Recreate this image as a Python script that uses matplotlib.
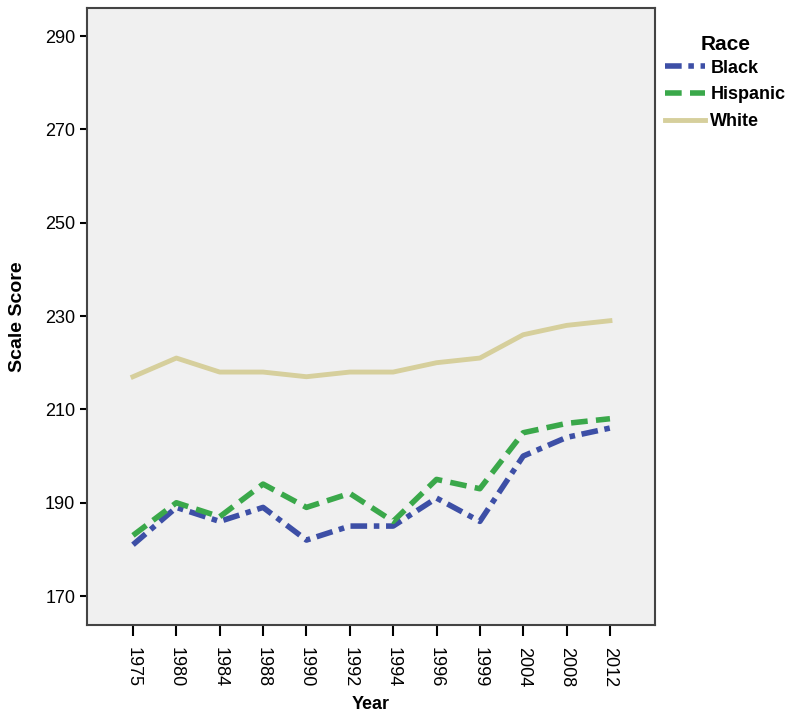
import matplotlib
matplotlib.use("Agg")
import matplotlib.pyplot as plt

plt.rcParams['font.family'] = ['Liberation Sans', 'DejaVu Sans']

years = ["1975", "1980", "1984", "1988", "1990", "1992", "1994", "1996", "1999", "2004", "2008", "2012"]
black = [181, 189, 186, 189, 182, 185, 185, 191, 186, 200, 204, 206]
hispanic = [183, 190, 187, 194, 189, 192, 186, 195, 193, 205, 207, 208]
white = [217, 221, 218, 218, 217, 218, 218, 220, 221, 226, 228, 229]

fig = plt.figure(figsize=(7.94, 7.17), dpi=100)
ax = fig.add_axes([0.1096, 0.1283, 0.7154, 0.8605])
ax.set_facecolor("#f0f0f0")

x = list(range(len(years)))
ax.plot(x, black, color="#3d4fa6", lw=4, linestyle=(0, (3, 1.2, 1, 1.2)), label="Black")
ax.plot(x, hispanic, color="#3aa84a", lw=4, linestyle=(0, (3, 1.5)), label="Hispanic")
ax.plot(x, white, color="#d6cf9c", lw=3.5, label="White")

ax.set_xlim(-1.06, 12.04)
ax.set_ylim(163.8, 296)
ax.set_yticks([170, 190, 210, 230, 250, 270, 290])
ax.set_xticks(x)
ax.set_xticklabels(years, rotation=-90, fontsize=13)
ax.tick_params(axis='y', labelsize=13, length=5, width=1.5)
ax.tick_params(axis='x', length=8, width=1.5, pad=8)
for s in ax.spines.values():
    s.set_linewidth(1.5)
    s.set_color("#444444")

ax.set_xlabel("Year", fontsize=13, fontweight="bold", labelpad=6)
ax.set_ylabel("Scale Score", fontsize=14, fontweight="bold", labelpad=14)

leg = ax.legend(loc="upper left", bbox_to_anchor=(1.005, 0.968), frameon=False,
                title="Race", fontsize=13, handlelength=2.2, handletextpad=0.3,
                labelspacing=0.55, borderaxespad=0)
leg._legend_box.sep = 4
leg.get_title().set_fontweight("bold")
leg.get_title().set_fontsize(15)
for t in leg.get_texts():
    t.set_fontweight("bold")

fig.savefig("out.png", dpi=100)
